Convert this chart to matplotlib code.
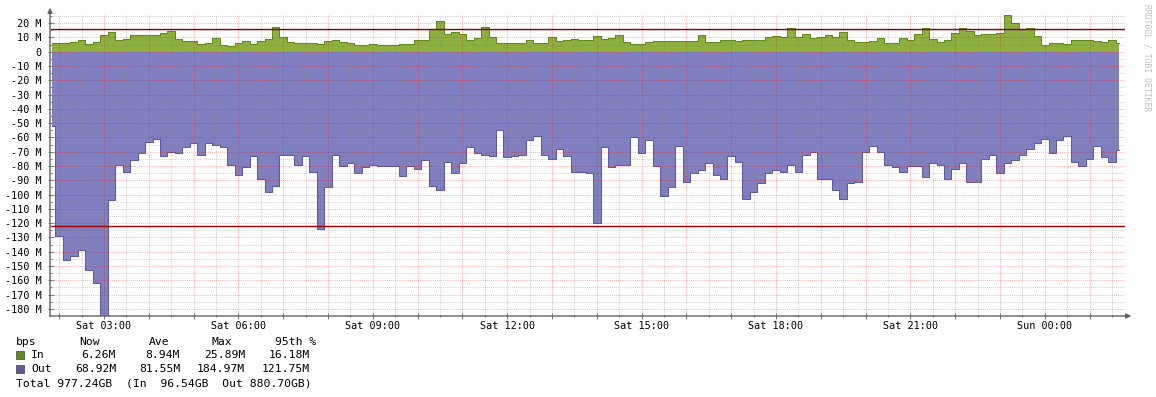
import numpy as np
import matplotlib.pyplot as plt
from matplotlib.patches import Rectangle

plt.rcParams['font.family'] = 'DejaVu Sans Mono'

# 10-minute samples, first one at Sat 01:50 (hours since Sat 00:00)
start_h = 1 + 50 / 60
step_h = 10 / 60

# traffic in Mbps
in_mbps = [6.1, 6.1, 6.1, 7, 8.2, 5.4, 6.5, 12, 13.5, 8.4,
           8.6, 11.7, 11.5, 11.4, 11.5, 13, 14.2, 9, 7.2, 7.2,
           5.6, 6, 9.5, 5, 4.2, 6.2, 7.2, 5.4, 7.5, 9,
           17.5, 10, 6.6, 6.1, 6.1, 6.1, 5.4, 7.7, 8.2, 6.5,
           6.1, 4.4, 4.4, 5.6, 4.9, 4.9, 4.9, 5.6, 5.4, 7.9,
           7.9, 16, 21.2, 12.5, 13.6, 12.2, 8.4, 9.6, 17, 10,
           6.1, 6.1, 6.1, 6.1, 8.4, 6.1, 6.1, 10.5, 7.2, 8.4,
           9.1, 8.4, 8.4, 11, 8.6, 9.6, 12, 7, 5.6, 5.6,
           6.5, 7.2, 7.2, 7.2, 7.2, 7.2, 7.2, 11.5, 6.5, 6.8,
           8.4, 8.4, 7.2, 7.9, 7.9, 8.4, 10.5, 10.8, 10.5, 16.8,
           10.5, 12.6, 9.6, 10.5, 12, 10.3, 13.5, 8, 7, 7,
           7.2, 9.6, 6.1, 6.1, 9.8, 8.5, 12.4, 16.6, 8.9, 6.5,
           8, 13.3, 16.3, 14.5, 12, 12.6, 12.6, 13, 25.89, 20,
           16, 16.5, 11, 4.6, 6.1, 6.1, 5.4, 7.9, 7.9, 7.9,
           7.2, 6.8, 7.9, 6.26]

out_mbps = [52, 129, 146, 143, 139, 153, 162, 184.97, 104, 79,
            84, 76, 71, 63, 61, 73, 70, 71, 67, 64,
            72, 64, 65, 67, 79, 86, 81, 73, 89, 98,
            94, 72, 72, 79, 73, 84, 124, 95, 72, 80,
            78, 85, 81, 79, 80, 80, 80, 87, 80, 82,
            76, 94, 97, 77, 85, 78, 67, 71, 72, 73,
            55, 74, 73, 72, 62, 59, 72, 75, 68, 73,
            84, 84, 85, 120, 67, 81, 79, 79, 60, 71,
            62, 80, 101, 95, 66, 91, 85, 83, 78, 86,
            89, 73, 77, 103, 98, 92, 85, 83, 84, 79,
            84, 72, 70, 89, 89, 97, 103, 92, 91, 70,
            66, 70, 79, 81, 84, 80, 80, 88, 78, 79,
            89, 82, 78, 91, 91, 75, 72, 85, 78, 76,
            72, 68, 64, 61, 71, 62, 59, 77, 80, 75,
            66, 74, 77, 68.92]

in_95th = 16.18
out_95th = 121.75

legend_header = ['bps', 'Now', 'Ave', 'Max', '95th %']
in_stats = ['6.26M', '8.94M', '25.89M', '16.18M']
out_stats = ['68.92M', '81.55M', '184.97M', '121.75M']
total_line = 'Total 977.24GB  (In  96.54GB  Out 880.70GB)'

xtick_hours = [3, 6, 9, 12, 15, 18, 21, 24]
xtick_labels = ['Sat 03:00', 'Sat 06:00', 'Sat 09:00', 'Sat 12:00',
                'Sat 15:00', 'Sat 18:00', 'Sat 21:00', 'Sun 00:00']

W, H = 1156, 397
fig = plt.figure(figsize=(W / 100, H / 100), dpi=100)
ax = fig.add_axes([51 / W, 1 - 316 / H, (1125 - 51) / W, (316 - 14.8) / H])

t = start_h + step_h * np.arange(len(in_mbps))
inn = np.array(in_mbps)
out = -np.array(out_mbps)

ax.fill_between(t, 0, out, step='mid', color='#8080c0', lw=0, zorder=1)
ax.fill_between(t, 0, inn, step='mid', color='#8db040', lw=0, zorder=1)
ax.step(t, out, where='mid', color='#5c5c9c', lw=0.75, zorder=1.5)
ax.step(t, inn, where='mid', color='#5e8a1e', lw=0.75, zorder=1.5)

ax.axhline(in_95th, color='#990000', lw=1, zorder=3)
ax.axhline(-out_95th, color='#990000', lw=1, zorder=3)

ax.set_xlim(3 + (51 - 104) / 44.8, 3 + (1125 - 104) / 44.8)
ax.set_ylim(-184.97, 25.89)

# grid: hours major (pink), half hours minor (gray)
hours = np.arange(2, 26)
ax.set_xticks(hours)
ax.set_xticklabels([xtick_labels[xtick_hours.index(h)] if h in xtick_hours else ''
                    for h in hours])
ax.set_xticks(np.arange(2, 26, 0.5), minor=True)
yt = np.arange(-180, 30, 10)
ax.set_yticks(yt)
ax.set_yticklabels(['0' if v == 0 else f'{v} M' for v in yt])
ax.set_yticks(np.arange(-180, 30, 5), minor=True)

ax.set_axisbelow(False)
ax.grid(which='major', color='#ff0000', alpha=0.3, linestyle=(0, (1, 1)), lw=0.75)
ax.grid(which='minor', color='#808080', alpha=0.35, linestyle=(0, (1, 1)), lw=0.75)
ax.tick_params(which='both', direction='inout', color='#808080', width=0.8,
               labelsize=7.3, labelcolor='black')
ax.tick_params(which='major', length=4)
ax.tick_params(which='minor', length=2)
ax.tick_params(axis='y', pad=5)
ax.tick_params(axis='x', pad=1.5)
for s in ax.spines.values():
    s.set_visible(False)

# axis lines with arrows
ax.annotate('', xy=(50, H - 5), xytext=(50, H - 319), xycoords='figure pixels',
            arrowprops=dict(arrowstyle='-|>', color='#606060', lw=1, mutation_scale=7))
ax.annotate('', xy=(1134, H - 316), xytext=(47, H - 316), xycoords='figure pixels',
            arrowprops=dict(arrowstyle='-|>', color='#606060', lw=1, mutation_scale=7))

fig.text(1147 / W, 1 - 4 / H, 'RRDTOOL / TOBI OETIKER', rotation=270,
         ha='center', va='top', fontsize=5.8, color='#c0c0c0')

# legend block
fs = 8.2
def px(x, y):
    return x / W, 1 - y / H

for lab, x in zip(legend_header, [16, 79, 149, 212, 275]):
    fig.text(*px(x, 341.7), lab, ha='left', va='center', fontsize=fs)

for row_y, name, stats, col in [(354.5, 'In', in_stats, '#5e8a1e'),
                                (369.3, 'Out', out_stats, '#5c5c9c')]:
    fig.patches.append(Rectangle(px(15.5, row_y + 4), 8 / W, 8 / H,
                                 transform=fig.transFigure, facecolor=col,
                                 edgecolor='#404040', lw=0.5))
    fig.text(*px(31, row_y), name, ha='left', va='center', fontsize=fs)
    for v, x in zip(stats, [116, 180, 245, 310]):
        fig.text(*px(x, row_y), v, ha='right', va='center', fontsize=fs)

fig.text(*px(16, 383), total_line, ha='left', va='center', fontsize=fs)

fig.savefig('out.png', dpi=100, facecolor='white')
